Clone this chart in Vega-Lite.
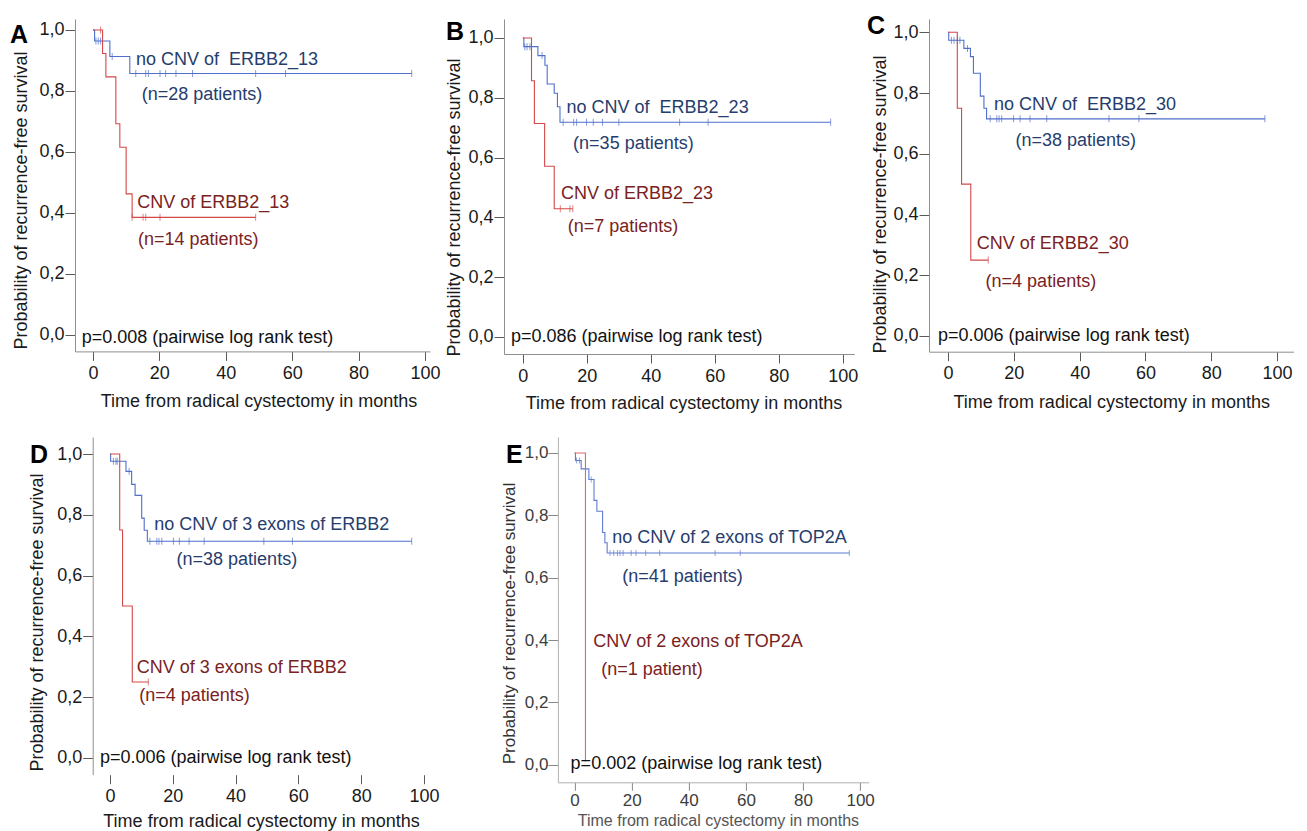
{
  "$schema": "https://vega.github.io/schema/vega-lite/v6.json",
  "background": "white",
  "autosize": {"type": "pad"},
  "padding": {"left": 10, "top": 14, "right": 0, "bottom": 0},
  "config": {
    "view": {"stroke": null},
    "axis": {"grid": false, "labelFont": "Liberation Sans", "titleFont": "Liberation Sans", "labelFontSize": 18, "titleFontSize": 18, "titleFontWeight": "normal", "labelColor": "#1a1a1a", "titleColor": "#1a1a1a", "domainColor": "#8f8f8f", "tickColor": "#5a5a5a", "domainWidth": 1, "tickWidth": 1}
  },
  "datasets": {
    "curves": [
      {"p":"A","g":"no","t":0,"s":1},{"p":"A","g":"no","t":0.5,"s":0.964},{"p":"A","g":"no","t":5.1,"s":0.913},{"p":"A","g":"no","t":11.1,"s":0.857},{"p":"A","g":"no","t":96,"s":0.857},
      {"p":"A","g":"cnv","t":0,"s":1},{"p":"A","g":"cnv","t":2.9,"s":0.923},{"p":"A","g":"cnv","t":3.9,"s":0.846},{"p":"A","g":"cnv","t":6.9,"s":0.692},{"p":"A","g":"cnv","t":8.1,"s":0.615},{"p":"A","g":"cnv","t":10,"s":0.462},{"p":"A","g":"cnv","t":11.8,"s":0.385},{"p":"A","g":"cnv","t":49,"s":0.385},
      {"p":"B","g":"no","t":0,"s":1},{"p":"B","g":"no","t":0.3,"s":0.971},{"p":"B","g":"no","t":4.7,"s":0.941},{"p":"B","g":"no","t":6.9,"s":0.909},{"p":"B","g":"no","t":7.6,"s":0.846},{"p":"B","g":"no","t":9.8,"s":0.815},{"p":"B","g":"no","t":10.8,"s":0.77},{"p":"B","g":"no","t":11.6,"s":0.718},{"p":"B","g":"no","t":96.2,"s":0.718},
      {"p":"B","g":"cnv","t":0,"s":1},{"p":"B","g":"cnv","t":2.7,"s":0.857},{"p":"B","g":"cnv","t":3.6,"s":0.714},{"p":"B","g":"cnv","t":6.8,"s":0.571},{"p":"B","g":"cnv","t":9.8,"s":0.429},{"p":"B","g":"cnv","t":15.6,"s":0.429},
      {"p":"C","g":"no","t":0,"s":1},{"p":"C","g":"no","t":0.2,"s":0.974},{"p":"C","g":"no","t":4.8,"s":0.947},{"p":"C","g":"no","t":6.8,"s":0.92},{"p":"C","g":"no","t":7.7,"s":0.865},{"p":"C","g":"no","t":9.8,"s":0.79},{"p":"C","g":"no","t":10.9,"s":0.75},{"p":"C","g":"no","t":11.7,"s":0.715},{"p":"C","g":"no","t":96.3,"s":0.715},
      {"p":"C","g":"cnv","t":0,"s":1},{"p":"C","g":"cnv","t":2.8,"s":0.75},{"p":"C","g":"cnv","t":4.1,"s":0.5},{"p":"C","g":"cnv","t":6.9,"s":0.25},{"p":"C","g":"cnv","t":12.2,"s":0.25},
      {"p":"D","g":"no","t":0,"s":1},{"p":"D","g":"no","t":0.2,"s":0.976},{"p":"D","g":"no","t":5.1,"s":0.943},{"p":"D","g":"no","t":6.9,"s":0.9},{"p":"D","g":"no","t":8,"s":0.864},{"p":"D","g":"no","t":10.1,"s":0.789},{"p":"D","g":"no","t":10.9,"s":0.749},{"p":"D","g":"no","t":11.9,"s":0.713},{"p":"D","g":"no","t":96.1,"s":0.713},
      {"p":"D","g":"cnv","t":0,"s":1},{"p":"D","g":"cnv","t":3.1,"s":0.75},{"p":"D","g":"cnv","t":4,"s":0.5},{"p":"D","g":"cnv","t":7.1,"s":0.25},{"p":"D","g":"cnv","t":12.2,"s":0.25},
      {"p":"E","g":"noE","t":0,"s":1},{"p":"E","g":"noE","t":0.3,"s":0.976},{"p":"E","g":"noE","t":2.3,"s":0.949},{"p":"E","g":"noE","t":5,"s":0.915},{"p":"E","g":"noE","t":6.8,"s":0.848},{"p":"E","g":"noE","t":7.8,"s":0.813},{"p":"E","g":"noE","t":9.8,"s":0.745},{"p":"E","g":"noE","t":10.6,"s":0.712},{"p":"E","g":"noE","t":11.4,"s":0.679},{"p":"E","g":"noE","t":96.2,"s":0.679},
      {"p":"E","g":"cnvE","t":0,"s":1},{"p":"E","g":"cnvE","t":3.8,"s":0.01}
    ],
    "censors": [
      {"p":"A","g":"no","t":0.9,"s":0.964},{"p":"A","g":"no","t":1.6,"s":0.964},{"p":"A","g":"no","t":2.3,"s":0.964},{"p":"A","g":"no","t":5.8,"s":0.913},
      {"p":"A","g":"no","t":12.9,"s":0.857},{"p":"A","g":"no","t":15.9,"s":0.857},{"p":"A","g":"no","t":16.7,"s":0.857},{"p":"A","g":"no","t":20.2,"s":0.857},{"p":"A","g":"no","t":21.9,"s":0.857},{"p":"A","g":"no","t":25,"s":0.857},{"p":"A","g":"no","t":30,"s":0.857},{"p":"A","g":"no","t":49,"s":0.857},{"p":"A","g":"no","t":58,"s":0.857},{"p":"A","g":"no","t":96,"s":0.857},
      {"p":"A","g":"cnv","t":2.3,"s":1},{"p":"A","g":"cnv","t":11.8,"s":0.385},{"p":"A","g":"cnv","t":15.1,"s":0.385},{"p":"A","g":"cnv","t":15.9,"s":0.385},{"p":"A","g":"cnv","t":20.2,"s":0.385},{"p":"A","g":"cnv","t":49,"s":0.385},
      {"p":"B","g":"no","t":0.6,"s":0.971},{"p":"B","g":"no","t":1.3,"s":0.971},{"p":"B","g":"no","t":2.2,"s":0.971},{"p":"B","g":"no","t":6,"s":0.941},
      {"p":"B","g":"no","t":12.6,"s":0.718},{"p":"B","g":"no","t":15.9,"s":0.718},{"p":"B","g":"no","t":16.8,"s":0.718},{"p":"B","g":"no","t":19.9,"s":0.718},{"p":"B","g":"no","t":22,"s":0.718},{"p":"B","g":"no","t":24.9,"s":0.718},{"p":"B","g":"no","t":30,"s":0.718},{"p":"B","g":"no","t":49,"s":0.718},{"p":"B","g":"no","t":57.9,"s":0.718},{"p":"B","g":"no","t":96.2,"s":0.718},
      {"p":"B","g":"cnv","t":11.7,"s":0.429},{"p":"B","g":"cnv","t":14.7,"s":0.429},{"p":"B","g":"cnv","t":15.6,"s":0.429},
      {"p":"C","g":"no","t":1,"s":0.974},{"p":"C","g":"no","t":1.8,"s":0.974},{"p":"C","g":"no","t":2.8,"s":0.974},{"p":"C","g":"no","t":3.6,"s":0.974},{"p":"C","g":"no","t":5.9,"s":0.947},
      {"p":"C","g":"no","t":12.8,"s":0.715},{"p":"C","g":"no","t":14.8,"s":0.715},{"p":"C","g":"no","t":15.5,"s":0.715},{"p":"C","g":"no","t":16.3,"s":0.715},{"p":"C","g":"no","t":19.9,"s":0.715},{"p":"C","g":"no","t":21.9,"s":0.715},{"p":"C","g":"no","t":24.9,"s":0.715},{"p":"C","g":"no","t":30,"s":0.715},{"p":"C","g":"no","t":48.9,"s":0.715},{"p":"C","g":"no","t":58,"s":0.715},{"p":"C","g":"no","t":96.3,"s":0.715},
      {"p":"C","g":"cnv","t":12.2,"s":0.25},
      {"p":"D","g":"no","t":1.1,"s":0.976},{"p":"D","g":"no","t":1.9,"s":0.976},{"p":"D","g":"no","t":2.3,"s":0.976},{"p":"D","g":"no","t":6.1,"s":0.943},
      {"p":"D","g":"no","t":12.7,"s":0.713},{"p":"D","g":"no","t":14.9,"s":0.713},{"p":"D","g":"no","t":15.6,"s":0.713},{"p":"D","g":"no","t":16.5,"s":0.713},{"p":"D","g":"no","t":20.2,"s":0.713},{"p":"D","g":"no","t":22.1,"s":0.713},{"p":"D","g":"no","t":25.2,"s":0.713},{"p":"D","g":"no","t":30,"s":0.713},{"p":"D","g":"no","t":49,"s":0.713},{"p":"D","g":"no","t":58.1,"s":0.713},{"p":"D","g":"no","t":96.1,"s":0.713},
      {"p":"D","g":"cnv","t":12.2,"s":0.25},
      {"p":"E","g":"noE","t":0.7,"s":0.976},{"p":"E","g":"noE","t":1.7,"s":0.976},{"p":"E","g":"noE","t":5.8,"s":0.915},
      {"p":"E","g":"noE","t":12.4,"s":0.679},{"p":"E","g":"noE","t":13.7,"s":0.679},{"p":"E","g":"noE","t":15,"s":0.679},{"p":"E","g":"noE","t":15.9,"s":0.679},{"p":"E","g":"noE","t":17,"s":0.679},{"p":"E","g":"noE","t":19.8,"s":0.679},{"p":"E","g":"noE","t":21.5,"s":0.679},{"p":"E","g":"noE","t":24.9,"s":0.679},{"p":"E","g":"noE","t":29.8,"s":0.679},{"p":"E","g":"noE","t":49.2,"s":0.679},{"p":"E","g":"noE","t":58,"s":0.679},{"p":"E","g":"noE","t":96.2,"s":0.679}
    ],
    "labels": [
      {"p":"A","g":"no_t","t":12.95,"s":0.903,"label":"no CNV of\u00a0 ERBB2_13"},
      {"p":"A","g":"no_t","t":14.67,"s":0.787,"label":"(n=28 patients)"},
      {"p":"A","g":"cnv_t","t":13.34,"s":0.433,"label":"CNV of ERBB2_13"},
      {"p":"A","g":"cnv_t","t":13.55,"s":0.311,"label":"(n=14 patients)"},
      {"p":"A","g":"p_t","t":-3.4,"s":-0.01,"label":"p=0.008 (pairwise log rank test)"},
      {"p":"B","g":"no_t","t":13.65,"s":0.767,"label":"no CNV of\u00a0 ERBB2_23"},
      {"p":"B","g":"no_t","t":15.7,"s":0.644,"label":"(n=35 patients)"},
      {"p":"B","g":"cnv_t","t":11.9,"s":0.477,"label":"CNV of ERBB2_23"},
      {"p":"B","g":"cnv_t","t":14,"s":0.369,"label":"(n=7 patients)"},
      {"p":"B","g":"p_t","t":-3.75,"s":0,"label":"p=0.086 (pairwise log rank test)"},
      {"p":"C","g":"no_t","t":13.95,"s":0.761,"label":"no CNV of\u00a0 ERBB2_30"},
      {"p":"C","g":"no_t","t":20.5,"s":0.642,"label":"(n=38 patients)"},
      {"p":"C","g":"cnv_t","t":8.7,"s":0.302,"label":"CNV of ERBB2_30"},
      {"p":"C","g":"cnv_t","t":11.4,"s":0.179,"label":"(n=4 patients)"},
      {"p":"C","g":"p_t","t":-3.05,"s":0,"label":"p=0.006 (pairwise log rank test)"},
      {"p":"D","g":"no_t","t":14.1,"s":0.767,"label":"no CNV of 3 exons of ERBB2"},
      {"p":"D","g":"no_t","t":21.2,"s":0.65,"label":"(n=38 patients)"},
      {"p":"D","g":"cnv_t","t":8.5,"s":0.296,"label":"CNV of 3 exons of ERBB2"},
      {"p":"D","g":"cnv_t","t":9.3,"s":0.203,"label":"(n=4 patients)"},
      {"p":"D","g":"p_t","t":-3.2,"s":0,"label":"p=0.006 (pairwise log rank test)"},
      {"p":"E","g":"no_t","t":13.2,"s":0.727,"label":"no CNV of 2 exons of TOP2A"},
      {"p":"E","g":"no_t","t":16.7,"s":0.602,"label":"(n=41 patients)"},
      {"p":"E","g":"cnv_t","t":6.55,"s":0.393,"label":"CNV of 2 exons of TOP2A"},
      {"p":"E","g":"cnv_t","t":9.35,"s":0.305,"label":"(n=1 patient)"},
      {"p":"E","g":"p_t","t":-1.4,"s":0.003,"label":"p=0.002 (pairwise log rank test)"}
    ]
  },
  "columns": 1,
  "align": "none",
  "bounds": "full",
  "spacing": 24,
  "concat": [
    {
      "bounds": "flush",
      "spacing": 74,
      "hconcat": [
        {
          "width": 355, "height": 332.4,
          "title": {"text": "A", "anchor": "start", "frame": "group", "orient": "top", "offset": -48.5, "dx": -65, "baseline": "alphabetic", "fontSize": 25, "font": "Liberation Sans", "fontWeight": "bold", "color": "#000"},
          "encoding": {
            "x": {"field": "t", "type": "quantitative", "scale": {"domain": [-5.4, 101.5], "nice": false, "zero": false}, "axis": {"values": [0,20,40,60,80,100], "title": "Time from radical cystectomy in months", "tickSize": 9, "labelPadding": 4, "titlePadding": 10, "titleX": 183.5, "labelFlush": false, "labelOverlap": false}},
            "y": {"field": "s", "type": "quantitative", "scale": {"domain": [-0.055, 1.036], "nice": false, "zero": false}, "axis": {"values": [0,0.2,0.4,0.6,0.8,1], "labelExpr": "replace(format(datum.value, '.1f'), '.', ',')", "title": "Probability of recurrence-free survival", "tickSize": 10, "labelPadding": 1, "titlePadding": 8, "titleY": 181}}
          },
          "layer": [
            {"data": {"name": "curves"}, "transform": [{"filter": "datum.p === 'A'"}], "mark": {"type": "line", "interpolate": "step-after", "strokeWidth": 1.1}, "encoding": {"color": {"field": "g", "type": "nominal", "legend": null, "scale": {"domain": ["no","cnv","noE","cnvE","no_t","cnv_t","p_t"], "range": ["#4f6fca","#d44848","#5f7cd0","#d96a6a","#263d6d","#7a2222","#111111"]}}}},
            {"data": {"name": "censors"}, "transform": [{"filter": "datum.p === 'A'"}], "mark": {"type": "tick", "orient": "vertical", "size": 7, "thickness": 1}, "encoding": {"color": {"field": "g", "type": "nominal", "legend": null, "scale": {"domain": ["no","cnv","noE","cnvE","no_t","cnv_t","p_t"], "range": ["#4f6fca","#d44848","#5f7cd0","#d96a6a","#263d6d","#7a2222","#111111"]}}}},
            {"data": {"name": "labels"}, "transform": [{"filter": "datum.p === 'A'"}], "mark": {"type": "text", "align": "left", "baseline": "middle", "fontSize": 18, "font": "Liberation Sans"}, "encoding": {"text": {"field": "label"}, "color": {"field": "g", "type": "nominal", "legend": null, "scale": {"domain": ["no","cnv","noE","cnvE","no_t","cnv_t","p_t"], "range": ["#4f6fca","#d44848","#5f7cd0","#d96a6a","#263d6d","#7a2222","#111111"]}}}}
          ]
        },
        {
          "width": 350.3, "height": 335,
          "title": {"text": "B", "anchor": "start", "frame": "group", "orient": "top", "offset": -45.5, "dx": -58, "baseline": "alphabetic", "fontSize": 25, "font": "Liberation Sans", "fontWeight": "bold", "color": "#000"},
          "encoding": {
            "x": {"field": "t", "type": "quantitative", "scale": {"domain": [-5.9, 103.6], "nice": false, "zero": false}, "axis": {"values": [0,20,40,60,80,100], "title": "Time from radical cystectomy in months", "tickSize": 9, "labelPadding": 4, "titlePadding": 9.3, "titleX": 179.5, "labelFlush": false, "labelOverlap": false}},
            "y": {"field": "s", "type": "quantitative", "scale": {"domain": [-0.057, 1.0635], "nice": false, "zero": false}, "axis": {"values": [0,0.2,0.4,0.6,0.8,1], "labelExpr": "replace(format(datum.value, '.1f'), '.', ',')", "title": "Probability of recurrence-free survival", "tickSize": 10, "labelPadding": 1, "titlePadding": 4, "titleY": 188}}
          },
          "layer": [
            {"data": {"name": "curves"}, "transform": [{"filter": "datum.p === 'B'"}], "mark": {"type": "line", "interpolate": "step-after", "strokeWidth": 1.1}, "encoding": {"color": {"field": "g", "type": "nominal", "legend": null, "scale": {"domain": ["no","cnv","noE","cnvE","no_t","cnv_t","p_t"], "range": ["#4f6fca","#d44848","#5f7cd0","#d96a6a","#263d6d","#7a2222","#111111"]}}}},
            {"data": {"name": "censors"}, "transform": [{"filter": "datum.p === 'B'"}], "mark": {"type": "tick", "orient": "vertical", "size": 7, "thickness": 1}, "encoding": {"color": {"field": "g", "type": "nominal", "legend": null, "scale": {"domain": ["no","cnv","noE","cnvE","no_t","cnv_t","p_t"], "range": ["#4f6fca","#d44848","#5f7cd0","#d96a6a","#263d6d","#7a2222","#111111"]}}}},
            {"data": {"name": "labels"}, "transform": [{"filter": "datum.p === 'B'"}], "mark": {"type": "text", "align": "left", "baseline": "middle", "fontSize": 18, "font": "Liberation Sans"}, "encoding": {"text": {"field": "label"}, "color": {"field": "g", "type": "nominal", "legend": null, "scale": {"domain": ["no","cnv","noE","cnvE","no_t","cnv_t","p_t"], "range": ["#4f6fca","#d44848","#5f7cd0","#d96a6a","#263d6d","#7a2222","#111111"]}}}}
          ]
        },
        {
          "width": 364.5, "height": 332.7,
          "title": {"text": "C", "anchor": "start", "frame": "group", "orient": "top", "offset": -40, "dx": -62, "baseline": "alphabetic", "fontSize": 25, "font": "Liberation Sans", "fontWeight": "bold", "color": "#000"},
          "encoding": {
            "x": {"field": "t", "type": "quantitative", "scale": {"domain": [-5.8, 105], "nice": false, "zero": false}, "axis": {"values": [0,20,40,60,80,100], "title": "Time from radical cystectomy in months", "tickSize": 9, "labelPadding": 4, "titlePadding": 10.6, "labelFlush": false, "labelOverlap": false}},
            "y": {"field": "s", "type": "quantitative", "scale": {"domain": [-0.0517, 1.0438], "nice": false, "zero": false}, "axis": {"values": [0,0.2,0.4,0.6,0.8,1], "labelExpr": "replace(format(datum.value, '.1f'), '.', ',')", "title": "Probability of recurrence-free survival", "tickSize": 10, "labelPadding": 1, "titlePadding": 3, "titleY": 185}}
          },
          "layer": [
            {"data": {"name": "curves"}, "transform": [{"filter": "datum.p === 'C'"}], "mark": {"type": "line", "interpolate": "step-after", "strokeWidth": 1.1}, "encoding": {"color": {"field": "g", "type": "nominal", "legend": null, "scale": {"domain": ["no","cnv","noE","cnvE","no_t","cnv_t","p_t"], "range": ["#4f6fca","#d44848","#5f7cd0","#d96a6a","#263d6d","#7a2222","#111111"]}}}},
            {"data": {"name": "censors"}, "transform": [{"filter": "datum.p === 'C'"}], "mark": {"type": "tick", "orient": "vertical", "size": 7, "thickness": 1}, "encoding": {"color": {"field": "g", "type": "nominal", "legend": null, "scale": {"domain": ["no","cnv","noE","cnvE","no_t","cnv_t","p_t"], "range": ["#4f6fca","#d44848","#5f7cd0","#d96a6a","#263d6d","#7a2222","#111111"]}}}},
            {"data": {"name": "labels"}, "transform": [{"filter": "datum.p === 'C'"}], "mark": {"type": "text", "align": "left", "baseline": "middle", "fontSize": 18, "font": "Liberation Sans"}, "encoding": {"text": {"field": "label"}, "color": {"field": "g", "type": "nominal", "legend": null, "scale": {"domain": ["no","cnv","noE","cnvE","no_t","cnv_t","p_t"], "range": ["#4f6fca","#d44848","#5f7cd0","#d96a6a","#263d6d","#7a2222","#111111"]}}}}
          ]
        }
      ]
    },
    {
      "bounds": "flush",
      "spacing": 123.9,
      "hconcat": [
        {
          "width": 358.4, "height": 337.7,
          "title": {"text": "D", "anchor": "start", "frame": "group", "orient": "top", "offset": -50.9, "dx": -45, "baseline": "alphabetic", "fontSize": 25, "font": "Liberation Sans", "fontWeight": "bold", "color": "#000"},
          "encoding": {
            "x": {"field": "t", "type": "quantitative", "scale": {"domain": [-11.14, 103], "nice": false, "zero": false}, "axis": {"values": [0,20,40,60,80,100], "title": "Time from radical cystectomy in months", "domain": false, "tickSize": 9, "labelPadding": 4, "titlePadding": 6.6, "titleX": 186, "labelFlush": false, "labelOverlap": false}},
            "y": {"field": "s", "type": "quantitative", "scale": {"domain": [-0.055, 1.056], "nice": false, "zero": false}, "axis": {"values": [0,0.2,0.4,0.6,0.8,1], "labelExpr": "replace(format(datum.value, '.1f'), '.', ',')", "title": "Probability of recurrence-free survival", "offset": -17.7, "tickSize": 10, "labelPadding": 1, "titlePadding": 10, "titleY": 185}}
          },
          "layer": [
            {"data": {"values": [{}]}, "mark": {"type": "rule", "color": "#8f8f8f", "strokeWidth": 1}, "encoding": {"x": {"datum": -5.5}, "x2": {"datum": 103}, "y": {"datum": -0.055}}},
            {"data": {"name": "curves"}, "transform": [{"filter": "datum.p === 'D'"}], "mark": {"type": "line", "interpolate": "step-after", "strokeWidth": 1.1}, "encoding": {"color": {"field": "g", "type": "nominal", "legend": null, "scale": {"domain": ["no","cnv","noE","cnvE","no_t","cnv_t","p_t"], "range": ["#4f6fca","#d44848","#5f7cd0","#d96a6a","#263d6d","#7a2222","#111111"]}}}},
            {"data": {"name": "censors"}, "transform": [{"filter": "datum.p === 'D'"}], "mark": {"type": "tick", "orient": "vertical", "size": 7, "thickness": 1}, "encoding": {"color": {"field": "g", "type": "nominal", "legend": null, "scale": {"domain": ["no","cnv","noE","cnvE","no_t","cnv_t","p_t"], "range": ["#4f6fca","#d44848","#5f7cd0","#d96a6a","#263d6d","#7a2222","#111111"]}}}},
            {"data": {"name": "labels"}, "transform": [{"filter": "datum.p === 'D'"}], "mark": {"type": "text", "align": "left", "baseline": "middle", "fontSize": 18, "font": "Liberation Sans"}, "encoding": {"text": {"field": "label"}, "color": {"field": "g", "type": "nominal", "legend": null, "scale": {"domain": ["no","cnv","noE","cnvE","no_t","cnv_t","p_t"], "range": ["#4f6fca","#d44848","#5f7cd0","#d96a6a","#263d6d","#7a2222","#111111"]}}}}
          ]
        },
        {
          "width": 310.8, "height": 345.3,
          "title": {"text": "E", "anchor": "start", "frame": "group", "orient": "top", "offset": -50.9, "dx": -52, "baseline": "alphabetic", "fontSize": 25, "font": "Liberation Sans", "fontWeight": "bold", "color": "#000"},
          "encoding": {
            "x": {"field": "t", "type": "quantitative", "scale": {"domain": [-5.85, 103], "nice": false, "zero": false}, "axis": {"values": [0,20,40,60,80,100], "title": "Time from radical cystectomy in months", "tickSize": 8, "labelPadding": 2, "titlePadding": 4, "titleX": 160, "labelFlush": false, "labelOverlap": false, "labelFontSize": 17, "titleFontSize": 16, "labelColor": "#3c3c3c", "titleColor": "#555555", "domainColor": "#b0b0b0", "tickColor": "#888888"}},
            "y": {"field": "s", "type": "quantitative", "scale": {"domain": [-0.0565, 1.0513], "nice": false, "zero": false}, "axis": {"values": [0,0.2,0.4,0.6,0.8,1], "labelExpr": "replace(format(datum.value, '.1f'), '.', ',')", "title": "Probability of recurrence-free survival", "tickSize": 10, "labelPadding": 0, "titlePadding": 6, "titleY": 186, "labelFontSize": 17, "titleFontSize": 17, "labelColor": "#3c3c3c", "titleColor": "#333333", "domainColor": "#b0b0b0", "tickColor": "#888888"}}
          },
          "layer": [
            {"data": {"name": "curves"}, "transform": [{"filter": "datum.p === 'E'"}], "mark": {"type": "line", "interpolate": "step-after", "strokeWidth": 1.1}, "encoding": {"color": {"field": "g", "type": "nominal", "legend": null, "scale": {"domain": ["no","cnv","noE","cnvE","no_t","cnv_t","p_t"], "range": ["#4f6fca","#d44848","#5f7cd0","#d96a6a","#263d6d","#7a2222","#111111"]}}}},
            {"data": {"name": "censors"}, "transform": [{"filter": "datum.p === 'E'"}], "mark": {"type": "tick", "orient": "vertical", "size": 6, "thickness": 1}, "encoding": {"color": {"field": "g", "type": "nominal", "legend": null, "scale": {"domain": ["no","cnv","noE","cnvE","no_t","cnv_t","p_t"], "range": ["#4f6fca","#d44848","#5f7cd0","#d96a6a","#263d6d","#7a2222","#111111"]}}}},
            {"data": {"name": "labels"}, "transform": [{"filter": "datum.p === 'E'"}], "mark": {"type": "text", "align": "left", "baseline": "middle", "fontSize": 18, "font": "Liberation Sans"}, "encoding": {"text": {"field": "label"}, "color": {"field": "g", "type": "nominal", "legend": null, "scale": {"domain": ["no","cnv","noE","cnvE","no_t","cnv_t","p_t"], "range": ["#4f6fca","#d44848","#5f7cd0","#d96a6a","#263d6d","#7a2222","#111111"]}}}}
          ]
        }
      ]
    }
  ]
}
